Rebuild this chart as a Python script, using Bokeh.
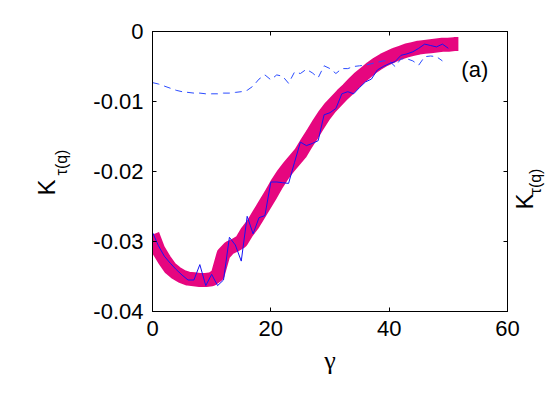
import math
from bokeh.plotting import figure
from bokeh.models import LinearAxis, FixedTicker, Label, Range1d
from bokeh.embed import file_html
from bokeh.resources import INLINE

# ---- data ----
gamma_thick = [0, 1, 2, 3, 4, 5, 6, 7, 8, 9, 10, 11, 12, 13, 14, 15, 16, 17, 18, 19,
               20, 21, 22, 23, 24, 25, 26, 27, 28, 29, 30, 31, 32, 33, 34, 35, 36, 37,
               38, 39, 40, 41, 42, 43, 44, 45, 46, 47, 48, 49, 50, 51, 51.7]
k_thick = [-0.0290, -0.0312, -0.0326, -0.0338, -0.0345, -0.0350, -0.0353, -0.0354,
           -0.0355, -0.0355, -0.0354, -0.0348, -0.0318, -0.0309, -0.0305, -0.0300,
           -0.0286, -0.0275, -0.0261, -0.0247, -0.0233, -0.0218, -0.0205, -0.0194,
           -0.0184, -0.0174, -0.0160, -0.0147, -0.0133, -0.0120, -0.0109, -0.0100,
           -0.0091, -0.0083, -0.0074, -0.0066, -0.0059, -0.0052, -0.0046, -0.0041,
           -0.0037, -0.0033, -0.0030, -0.0027, -0.0025, -0.0023, -0.0022, -0.0021,
           -0.0020, -0.0019, -0.0019, -0.0018, -0.0018]

gamma_thin = [0, 1, 2, 3, 4, 5, 6, 7, 8, 9, 10, 11, 12, 13, 14, 15, 16, 17, 18, 19,
              20, 21, 22, 23, 24, 25, 26, 27, 28, 29, 30, 31, 32, 33, 34, 35, 36, 37,
              38, 39, 40, 41, 42, 43, 44, 45, 46, 47, 48, 49, 50]
k_thin = [-0.0287, -0.0306, -0.0321, -0.0331, -0.0340, -0.0348, -0.0355, -0.0355,
          -0.0333, -0.0363, -0.0347, -0.0363, -0.0355, -0.0294, -0.0305, -0.0328,
          -0.0264, -0.0289, -0.0266, -0.0263, -0.0215, -0.0215, -0.0216, -0.0217,
          -0.0187, -0.0158, -0.0163, -0.0160, -0.0156, -0.0119, -0.0116, -0.0110,
          -0.0089, -0.0086, -0.0089, -0.0080, -0.0072, -0.0068, -0.0055, -0.0050,
          -0.0046, -0.0043, -0.0034, -0.0032, -0.0029, -0.0024, -0.0018, -0.0020,
          -0.0022, -0.0018, -0.0024]

gamma_dash = [0, 1, 2, 3, 4, 5, 6, 7, 8, 9, 10, 11, 12, 13, 14, 15, 16, 17, 18, 19,
              20, 21, 22, 23, 24, 25, 26, 27, 28, 29, 30, 31, 32, 33, 34, 35, 36, 37,
              38, 39, 40, 41, 42, 43, 44, 45, 46, 47, 48, 49]
k_dash = [-0.0073, -0.0075, -0.0078, -0.0081, -0.0084, -0.0086, -0.0087, -0.0088,
          -0.0088, -0.0089, -0.0089, -0.0089, -0.0088, -0.0088, -0.0087, -0.0086,
          -0.0084, -0.0078, -0.0068, -0.0062, -0.0069, -0.0062, -0.0064, -0.0074,
          -0.0058, -0.0060, -0.0054, -0.0059, -0.0066, -0.0049, -0.0053, -0.0060,
          -0.0053, -0.0053, -0.0050, -0.0049, -0.0048, -0.0046, -0.0044, -0.0042,
          -0.0042, -0.0050, -0.0039, -0.0039, -0.0042, -0.0048, -0.0036, -0.0035,
          -0.0036, -0.0042]

x_ticks = [0, 20, 40, 60]
x_tick_labels = ["0", "20", "40", "60"]
y_ticks = [-0.04, -0.03, -0.02, -0.01, 0]
y_tick_labels = ["-0.04", "-0.03", "-0.02", "-0.01", "0"]
x_label = "γ"
y_label_main = "K"
y_label_sub = "τ(q)"
panel_tag = "(a)"

FONT = "Liberation Sans"

p = figure(width=545, height=395, output_backend="svg", toolbar_location=None,
           x_range=Range1d(0, 60), y_range=Range1d(-0.04, 0),
           min_border_left=152, min_border_right=38, min_border_top=31,
           min_border_bottom=84)
p.background_fill_color = "white"
p.border_fill_color = "white"
p.outline_line_color = "black"
p.outline_line_width = 1
p.xgrid.visible = False
p.ygrid.visible = False

# main axes
xa = p.xaxis[0]
xa.ticker = FixedTicker(ticks=x_ticks)
xa.major_label_overrides = dict(zip(x_ticks, x_tick_labels))
ya = p.yaxis[0]
ya.ticker = FixedTicker(ticks=y_ticks)
ya.major_label_overrides = dict(zip(y_ticks, y_tick_labels))
for ax in (xa, ya):
    ax.major_tick_in = 4
    ax.major_tick_out = 0
    ax.minor_tick_line_color = None
    ax.axis_line_color = "black"
    ax.major_tick_line_color = "black"
    ax.major_label_text_font = FONT
    ax.major_label_text_font_size = "22px"
    ax.major_label_text_color = "black"
xa.major_label_standoff = 9
ya.major_label_standoff = 9
xa.axis_label = x_label
xa.axis_label_text_font = "Liberation Serif"
xa.axis_label_text_font_size = "26px"
xa.axis_label_text_font_style = "normal"
xa.axis_label_text_color = "black"
xa.axis_label_standoff = 7

# mirrored tick axes
top = LinearAxis(ticker=FixedTicker(ticks=x_ticks),
                 major_label_overrides={t: "" for t in x_ticks})
right = LinearAxis(ticker=FixedTicker(ticks=y_ticks),
                   major_label_overrides={t: "" for t in y_ticks})
for ax in (top, right):
    ax.major_tick_in = 4
    ax.major_tick_out = 0
    ax.minor_tick_line_color = None
    ax.major_label_standoff = 0
    ax.major_label_text_font_size = "1px"
    ax.axis_line_color = "black"
p.add_layout(top, "above")
p.add_layout(right, "right")

# series
p.line(gamma_thick, k_thick, line_color="#E6067F", line_width=14, line_join="round")
p.line(gamma_dash, k_dash, line_color="#2A4BFF", line_width=1, line_dash="7 5")
p.line(gamma_thin, k_thin, line_color="#1414F5", line_width=1)

# y label (K with subscript) placed in side panels so that it is not clipped
p.add_layout(Label(x=0, y=-0.02, x_offset=-106.5, y_offset=-16, text=y_label_main,
                   angle=math.pi / 2, text_align="center", text_baseline="middle",
                   text_font=FONT, text_font_size="24px", text_color="black"), "left")
p.add_layout(Label(x=0, y=-0.02, x_offset=-91.5, y_offset=9, text=y_label_sub,
                   angle=math.pi / 2, text_align="center", text_baseline="middle",
                   text_font=FONT, text_font_size="16px", text_color="black"), "left")
# neighbouring panel's label at the right edge
p.add_layout(Label(x=60, y=-0.02, x_offset=17, y_offset=-30, text=y_label_main,
                   angle=math.pi / 2, text_align="center", text_baseline="middle",
                   text_font=FONT, text_font_size="24px", text_color="black"), "left")
p.add_layout(Label(x=60, y=-0.02, x_offset=28, y_offset=-10, text=y_label_sub,
                   angle=math.pi / 2, text_align="center", text_baseline="middle",
                   text_font=FONT, text_font_size="16px", text_color="black"), "above")
# panel tag
p.add_layout(Label(x=60, y=0, x_offset=-32.7, y_offset=-37.5, text=panel_tag,
                   text_align="center", text_baseline="middle",
                   text_font=FONT, text_font_size="22px", text_color="black"))

open("out.html", "w").write(file_html(p, INLINE))
